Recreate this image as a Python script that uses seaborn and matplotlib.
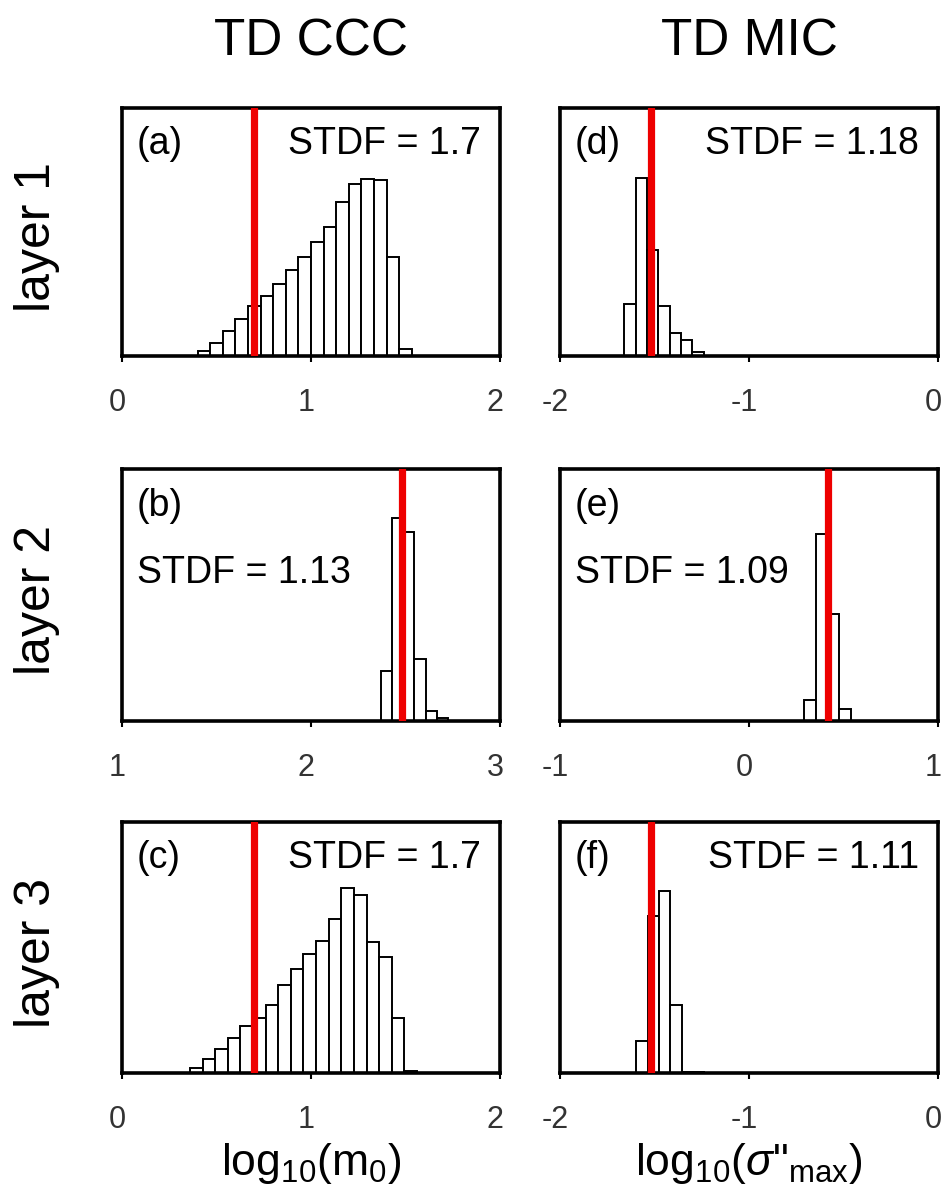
import numpy as np
import pandas as pd
import matplotlib
matplotlib.use("Agg")
import matplotlib.pyplot as plt
from matplotlib.transforms import ScaledTranslation
import seaborn as sns

sns.set_theme(style="white")
plt.rcParams["font.family"] = ["Liberation Sans", "DejaVu Sans"]
plt.rcParams["mathtext.fontset"] = "custom"
plt.rcParams["mathtext.rm"] = "Liberation Sans"
plt.rcParams["mathtext.it"] = "Liberation Sans:italic"
plt.rcParams["axes.unicode_minus"] = False

# ---- labels -------------------------------------------------------------
col_titles = ["TD CCC", "TD MIC"]
row_titles = ["layer 1", "layer 2", "layer 3"]
ccc_tags = ["(a)", "(b)", "(c)"]
mic_tags = ["(d)", "(e)", "(f)"]
x_labels = [r"log$_{10}$(m$_0$)", r'log$_{10}$($\sigma$"$_{\rm max}$)']

# ---- TD CCC column: log10(m0) posterior histograms -----------------------
ccc_xlim = [(0, 2), (1, 3), (0, 2)]
ccc_bin_start = [0.40, 2.37, 0.36]
ccc_bin_width = [0.0667, 0.059, 0.0667]
counts_a = [15, 40, 76, 113, 150, 180, 218, 260, 300, 345, 391, 466, 520, 536, 532, 300, 20]
counts_b = [150, 603, 563, 186, 30, 10]
counts_c = [15, 42, 73, 105, 140, 165, 203, 262, 312, 355, 393, 460, 552, 533, 392, 347, 163, 5]
ccc_counts = [counts_a, counts_b, counts_c]
ccc_true = [0.70, 2.48, 0.70]
ccc_stdf = ["1.7", "1.13", "1.7"]

# ---- TD MIC column: log10(sigma''max) posterior histograms --------------
mic_xlim = [(-2, 0), (-1, 1), (-2, 0)]
mic_bin_start = [-1.66, 0.29, -1.597]
mic_bin_width = [0.06, 0.062, 0.06]
counts_d = [158, 538, 320, 151, 71, 48, 11]
counts_e = [62, 558, 317, 35]
counts_f = [97, 470, 543, 202, 4, 4]
mic_counts = [counts_d, counts_e, counts_f]
mic_true = [-1.52, 0.42, -1.52]
mic_stdf = ["1.18", "1.09", "1.11"]

count_max = 750
tick_color = "#333333"

fig = plt.figure(figsize=(9.45, 12.03), dpi=100)

col_left = [122 / 945, 560 / 945]
ax_w = 378 / 945
row_bottom = [1 - 356 / 1203, 1 - 721 / 1203, 1 - 1073 / 1203]
row_h = [248 / 1203, 252 / 1203, 251 / 1203]

columns = [
    (ccc_xlim, ccc_bin_start, ccc_bin_width, ccc_counts, ccc_true, ccc_stdf, ccc_tags),
    (mic_xlim, mic_bin_start, mic_bin_width, mic_counts, mic_true, mic_stdf, mic_tags),
]

label_shift = ScaledTranslation(-5 / 100, 0, fig.dpi_scale_trans)

for c, (xlims, starts, widths, counts_list, truths, stdfs, tags) in enumerate(columns):
    for r in range(3):
        ax = fig.add_axes([col_left[c], row_bottom[r], ax_w, row_h[r]])
        counts = np.asarray(counts_list[r], dtype=float)
        edges = starts[r] + widths[r] * np.arange(len(counts) + 1)
        centers = 0.5 * (edges[:-1] + edges[1:])
        df = pd.DataFrame({"value": centers, "count": counts})
        sns.histplot(data=df, x="value", weights="count", bins=edges.tolist(),
                     ax=ax, color="white", edgecolor="black", linewidth=1.4,
                     alpha=1, fill=True)
        ax.axvline(truths[r], color="#ee0000", lw=5.2, zorder=5)

        lo, hi = xlims[r]
        ax.set_xlim(lo, hi)
        ax.set_ylim(0, count_max)
        ax.set_xticks([lo, (lo + hi) / 2, hi])
        ax.set_xticklabels([f"{int(v)}" for v in (lo, (lo + hi) / 2, hi)])
        ax.set_yticks([])
        ax.set_ylabel("")
        ax.tick_params(axis="x", bottom=True, direction="out", length=4,
                       width=1.5, color="black", labelsize=22, pad=19,
                       labelcolor=tick_color)
        for lab in ax.get_xticklabels():
            lab.set_transform(lab.get_transform() + label_shift)
        for sp in ax.spines.values():
            sp.set_visible(True)
            sp.set_color("black")
            sp.set_linewidth(2.6)

        ax.text(0.04, 0.815, tags[r], transform=ax.transAxes, fontsize=27,
                ha="left", va="baseline", color="black")
        if r == 1:
            ax.text(0.04, 0.548, f"STDF = {stdfs[r]}", transform=ax.transAxes,
                    fontsize=27, ha="left", va="baseline", color="black")
        else:
            ax.text(0.95, 0.815, f"STDF = {stdfs[r]}", transform=ax.transAxes,
                    fontsize=27, ha="right", va="baseline", color="black")

        if r == 2:
            ax.set_xlabel(x_labels[c], fontsize=32, labelpad=4, color="black")
        else:
            ax.set_xlabel("")

    fig.text(col_left[c] + ax_w / 2, 1 - 55 / 1203, col_titles[c],
             fontsize=37, ha="center", va="baseline", color="black")

for r in range(3):
    fig.text(37 / 945, row_bottom[r] + row_h[r] / 2 - 5 / 1203, row_titles[r],
             fontsize=36, rotation=90, ha="center", va="center", color="black")

fig.savefig("out.png", dpi=100, facecolor="white")
